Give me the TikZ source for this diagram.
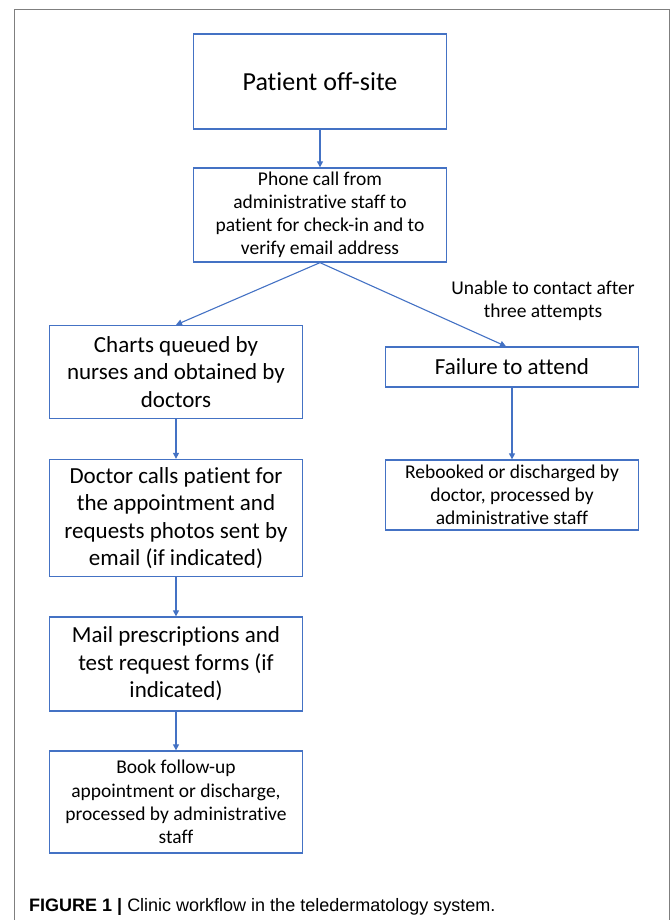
\documentclass[tikz,border=0pt]{standalone}
\usepackage{fontspec}
\setmainfont{Carlito}[Ligatures=NoCommon]
\setsansfont{Liberation Sans}
\usetikzlibrary{arrows.meta}
\definecolor{flowblue}{HTML}{4472C4}
\definecolor{framegray}{HTML}{7F7F7F}

\begin{document}
\begin{tikzpicture}[
    x=1pt, y=-1pt,
    stepbox/.style={rectangle, draw=flowblue, line width=1.3pt, fill=white,
        align=center, inner sep=2pt, minimum width=253pt},
    bigtext/.style={font=\fontsize{23}{27.5}\selectfont},
    smalltext/.style={font=\fontsize{19.5}{23.2}\selectfont},
    flow/.style={draw=flowblue, line width=1.1pt, -{Triangle[length=6pt,width=6pt]}}
]
    \useasboundingbox (0,0) rectangle (670,920);
    \draw[framegray, line width=1pt] (14,940) -- (14,10) -- (669,10) -- (669,940);

    \node[stepbox, minimum height=95pt, font=\fontsize{26}{30}\selectfont] (off) at (320,81.5) {Patient off-site};
    \node[stepbox, smalltext, minimum height=94pt] (phone) at (320,215)
        {Phone call from\\administrative staff to\\patient for check-in and to\\verify email address};
    \node[stepbox, bigtext, minimum height=93pt] (charts) at (176,372)
        {Charts queued by\\nurses and obtained by\\doctors};
    \node[stepbox, bigtext, minimum height=40pt] (fail) at (512,367) {Failure to attend};
    \node[stepbox, smalltext, minimum height=70pt] (rebook) at (512,495)
        {Rebooked or discharged by\\doctor, processed by\\administrative staff};
    \node[stepbox, bigtext, minimum height=117pt] (doctor) at (176,518)
        {Doctor calls patient for\\the appointment and\\requests photos sent by\\email (if indicated)};
    \node[stepbox, bigtext, minimum height=94pt] (mail) at (176,664)
        {Mail prescriptions and\\test request forms (if\\indicated)};
    \node[stepbox, smalltext, minimum height=102pt] (book) at (176,802)
        {Book follow-up\\appointment or discharge,\\processed by administrative\\staff};
    \node[smalltext, align=center] (unable) at (543,301) {Unable to contact after\\three attempts};

    \draw[flow] (off) -- (phone);
    \draw[flow] (phone.south) -- (charts.north);
    \draw[flow] (phone.south) -- ([xshift=-6pt]fail.north);
    \draw[flow] (charts) -- (doctor);
    \draw[flow] (doctor) -- (mail);
    \draw[flow] (mail) -- (book);
    \draw[flow] (fail) -- (rebook);

    \node[anchor=base west, inner sep=0pt, font=\sffamily\fontsize{18}{20}\selectfont] (caption) at (29,911)
        {\textbf{FIGURE 1 |} Clinic workflow in the teledermatology system.};
\end{tikzpicture}
\end{document}
